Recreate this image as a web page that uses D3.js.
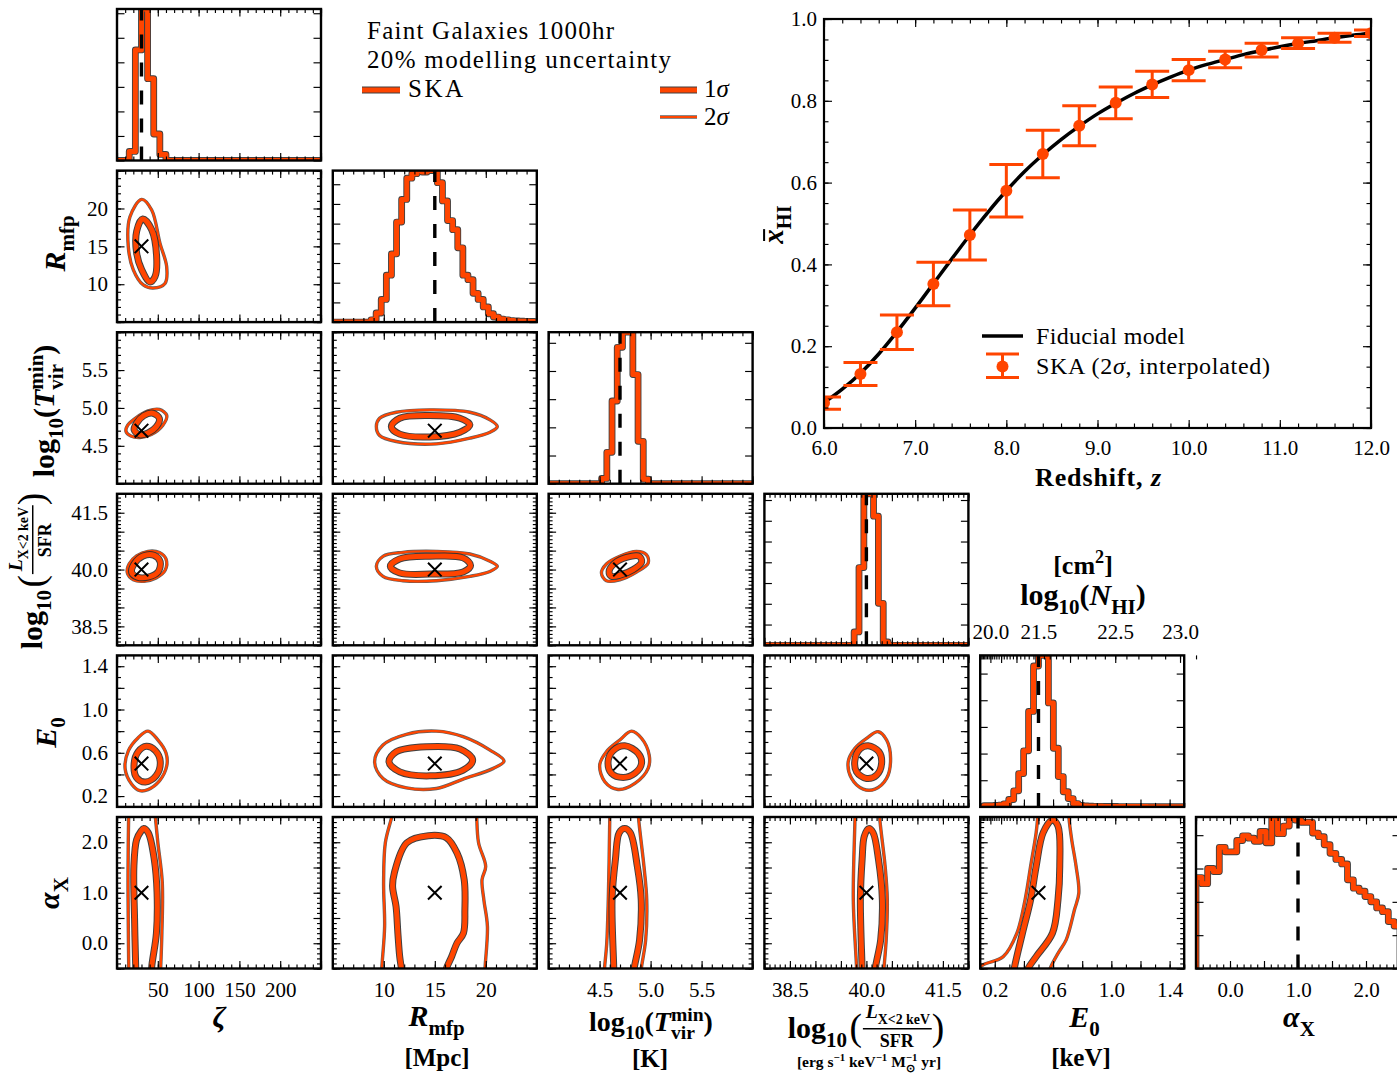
<!DOCTYPE html>
<html>
<head>
<meta charset="utf-8">
<script src="https://cdn.jsdelivr.net/npm/d3@7"></script>
<style>
  html, body { margin: 0; padding: 0; background: #fff; }
  svg { display: block; }
  text { font-family: 'Liberation Serif', 'Times New Roman', serif; fill: #000; white-space: pre; }
</style>
</head>
<body>
<svg id="fig" width="1397" height="1075"></svg>
<script>
// ---------------- corner-plot parameters ----------------
// order: zeta, R_mfp, log10 T_vir, log10 L_X/SFR, E_0, alpha_X
const paramDomains = [[0, 250], [5, 25], [4, 6], [38, 42], [0.1, 1.5], [-0.5, 2.5]];
const paramFiducial = [30, 15, 4.7, 40.0, 0.5, 1.0];
const majorStep = [50, 5, 0.5, 0.5, 0.2, 0.5];
const minorStep = [10, 1, 0.1, 0.1, 0.1, 0.1];
const tickLabelValues = [[50, 100, 150, 200], [10, 15, 20], [4.5, 5.0, 5.5], [38.5, 40.0, 41.5], [0.2, 0.6, 1.0, 1.4], [0.0, 1.0, 2.0]];
const tickLabelDecimals = [0, 0, 1, 1, 1, 1];

// ---------------- 1D marginal histograms (peak-normalised) ----------------
const histBinStart = [15, 8.75, 4.52, 39.76, 0.126, -0.5];
const histBinWidth = [7.5, 0.5, 0.051, 0.095, 0.034, 0.0857];
const histTickStep = [0.162, 0.13, 0.186, 0.137, 0.176, 0.22];
const histZeta = [0.06, 0.73, 1.0, 0.54, 0.175, 0.04];
const histRmfp = [0.015, 0.06, 0.15, 0.31, 0.45, 0.66, 0.81, 0.95, 0.98, 1.0, 0.99, 1.0, 1.0,
  0.92, 0.80, 0.67, 0.61, 0.49, 0.31, 0.28, 0.19, 0.15, 0.10, 0.055, 0.033, 0.02, 0.015, 0.01,
  0.008, 0.006, 0.005, 0.004, 0.003];
const histTvir = [0.035, 0.207, 0.546, 0.90, 1.0, 1.0, 0.72, 0.28, 0.03];
const histLx = [0.088, 0.513, 1.0, 1.0, 0.852, 0.277, 0.022];
const histE0 = [0.008, 0.008, 0.01, 0.012, 0.02, 0.049, 0.106, 0.22, 0.37, 0.63, 0.93, 1.0, 1.0,
  0.686, 0.387, 0.2, 0.1, 0.055, 0.022, 0.01, 0.006, 0.005, 0.004, 0.004, 0.003, 0.003, 0.003,
  0.002, 0.002, 0.002, 0.002, 0.002, 0.002, 0.001, 0.001, 0.001, 0.001, 0.001, 0.001, 0.001, 0.001];
const histAlphaX = [0.60, 0.56, 0.66, 0.64, 0.80, 0.77, 0.77, 0.845, 0.876, 0.86, 0.84, 0.905, 0.83,
  1.0, 0.89, 0.94, 1.0, 0.98, 0.965, 0.965, 0.894, 0.87, 0.817, 0.76, 0.72, 0.69, 0.585, 0.53,
  0.51, 0.475, 0.44, 0.40, 0.375, 0.31, 0.28];
const histograms = [histZeta, histRmfp, histTvir, histLx, histE0, histAlphaX];

// ---------------- 2D credible contours, vertices in parameter units ----------------
const zetaRmfp1s = [[31.5, 18.6], [42.5, 17.2], [48.6, 13.6], [46.6, 11.0], [40.4, 10.3], [30.3, 11.9], [24.1, 14.1], [24.1, 17.0]];
const zetaRmfp2s = [[30.3, 21.2], [42.5, 19.8], [52.7, 15.4], [60.9, 12.3], [58.8, 10.1], [44.5, 9.5], [32.2, 9.9], [20.0, 11.9], [13.8, 15.0], [15.9, 18.9]];
const zetaTvir1s = [[21, 4.71], [28, 4.645], [38, 4.67], [48, 4.75], [52, 4.86], [44, 4.93], [33, 4.9], [24, 4.8]];
const zetaTvir2s = [[11, 4.69], [17, 4.63], [28, 4.61], [42, 4.65], [56, 4.77], [61, 4.9], [52, 4.98], [38, 4.96], [22, 4.86], [13, 4.77]];
const zetaLx1s = [[18, 39.92], [25, 39.8], [38, 39.8], [50, 39.93], [53, 40.2], [45, 40.38], [32, 40.36], [21, 40.15]];
const zetaLx2s = [[12.6, 39.92], [20, 39.73], [33, 39.69], [48, 39.78], [59, 39.98], [60, 40.28], [52, 40.45], [38, 40.48], [24, 40.36], [15, 40.15]];
const zetaE01s = [[36, 0.66], [47, 0.62], [53, 0.52], [48, 0.39], [35, 0.33], [24, 0.37], [21, 0.50], [26, 0.61]];
const zetaE02s = [[38, 0.80], [50, 0.72], [60, 0.60], [61, 0.48], [52, 0.34], [38, 0.26], [28, 0.25], [18, 0.31], [10, 0.45], [14, 0.62], [26, 0.74]];
const zetaAlpha1s = [[23.5, -0.7], [22.9, -0.46], [21.5, 0.5], [20.7, 1.53], [24, 2.05], [29.5, 2.22], [32.6, 2.27], [38.2, 2.19], [45.7, 1.66], [49.1, 1.0], [48.3, 0.2], [42.6, -0.46], [42, -0.7]];
const zetaAlpha2sL = [[14.5, 2.7], [13.8, 2.0], [13.5, 1.2], [13.8, 0.4], [14.5, -0.7]];
const zetaAlpha2sR = [[46, 2.7], [47, 2.5], [50, 2.0], [55.5, 1.2], [55, 0.2], [53.5, -0.5], [53, -0.7]];

const rmfpTvir1s = [[10.74, 4.754], [11.56, 4.864], [14.51, 4.899], [17.46, 4.864], [18.44, 4.776], [17.46, 4.68], [14.51, 4.618], [11.56, 4.654]];
const rmfpTvir2s = [[9.27, 4.754], [9.59, 4.864], [11.23, 4.943], [14.51, 4.974], [18.44, 4.943], [20.41, 4.842], [21.13, 4.754], [20.41, 4.68], [18.44, 4.601], [15.17, 4.526], [11.23, 4.557], [9.59, 4.636]];
const rmfpLx1s = [[10.64, 40.085], [11.56, 40.28], [14.51, 40.35], [17.78, 40.307], [18.51, 40.11], [17.78, 39.936], [14.51, 39.88], [11.56, 39.91]];
const rmfpLx2s = [[9.27, 40.085], [9.92, 40.35], [11.88, 40.455], [15.17, 40.48], [18.44, 40.41], [20.41, 40.22], [21.13, 40.085], [20.41, 39.95], [18.44, 39.82], [15.17, 39.706], [11.88, 39.706], [9.92, 39.82]];
const rmfpE01s = [[10.51, 0.517], [11.23, 0.61], [14.18, 0.656], [17.46, 0.635], [18.71, 0.533], [17.78, 0.44], [14.51, 0.387], [11.56, 0.424]];
const rmfpE02s = [[9.1, 0.517], [9.92, 0.672], [12.22, 0.771], [15.17, 0.80], [17.78, 0.749], [20.41, 0.625], [21.79, 0.524], [20.74, 0.456], [17.78, 0.357], [15.17, 0.27], [12.22, 0.276], [9.92, 0.363]];
const rmfpAlpha1s = [[11.8, -0.7], [11.73, -0.51], [11.56, -0.265], [11.38, 0.2], [11.2, 0.73], [10.86, 1.126], [11.03, 1.39], [12.26, 1.99], [14.37, 2.13], [16.12, 2.09], [17.17, 1.79], [17.88, 1.26], [17.95, 0.66], [17.81, 0.2], [17.17, 0.0], [16.65, -0.265], [16.12, -0.51], [15.9, -0.7]];
const rmfpAlpha2sL = [[10.9, 2.7], [10.78, 2.51], [10.15, 1.99], [9.98, 1.19], [10.08, 0.33], [9.8, -0.51], [9.78, -0.7]];
const rmfpAlpha2sR = [[19.1, 2.7], [19.11, 2.51], [19.29, 1.99], [19.99, 1.52], [19.63, 1.26], [19.81, 0.86], [20.16, 0.33], [19.92, -0.51], [19.9, -0.7]];

const tvirLx1s = [[4.593, 39.95], [4.649, 40.17], [4.764, 40.32], [4.888, 40.35], [4.912, 40.2], [4.83, 40.0], [4.698, 39.85], [4.617, 39.82]];
const tvirLx2s = [[4.518, 39.91], [4.567, 40.148], [4.698, 40.35], [4.862, 40.48], [4.96, 40.39], [4.976, 40.17], [4.862, 39.936], [4.698, 39.73], [4.567, 39.706]];
const tvirE01s = [[4.747, 0.665], [4.878, 0.595], [4.911, 0.502], [4.846, 0.41], [4.731, 0.372], [4.617, 0.41], [4.583, 0.517], [4.632, 0.619]];
const tvirE02s = [[4.813, 0.80], [4.911, 0.734], [4.986, 0.579], [4.976, 0.456], [4.846, 0.317], [4.681, 0.261], [4.551, 0.332], [4.501, 0.486], [4.567, 0.61], [4.698, 0.718]];
const tvirAlpha1s = [[4.64, -0.7], [4.639, -0.51], [4.622, 0.862], [4.655, 1.657], [4.693, 2.19], [4.746, 2.27], [4.8, 2.19], [4.87, 1.52], [4.908, 0.862], [4.892, 0.067], [4.838, -0.51], [4.83, -0.7]];
const tvirAlpha2sL = [[4.6, 2.7], [4.6, 2.51], [4.585, 0.86], [4.57, 0.0], [4.548, -0.51], [4.545, -0.7]];
const tvirAlpha2sR = [[4.88, 2.7], [4.881, 2.51], [4.935, 1.52], [4.962, 0.86], [4.952, 0.07], [4.908, -0.51], [4.9, -0.7]];

const lxE01s = [[40.036, 0.665], [40.245, 0.61], [40.298, 0.502], [40.2, 0.394], [40.003, 0.363], [39.807, 0.424], [39.775, 0.533], [39.873, 0.635]];
const lxE02s = [[40.232, 0.795], [40.396, 0.718], [40.474, 0.549], [40.396, 0.363], [40.167, 0.264], [39.937, 0.264], [39.71, 0.363], [39.643, 0.517], [39.775, 0.641], [40.003, 0.734]];
const lxAlpha1s = [[39.92, -0.7], [39.916, -0.51], [39.882, 0.862], [39.916, 1.657], [39.959, 2.12], [40.045, 2.27], [40.131, 2.19], [40.237, 1.657], [40.313, 0.862], [40.28, 0.067], [40.173, -0.51], [40.17, -0.7]];
const lxAlpha2sL = [[39.777, 2.7], [39.777, 2.51], [39.743, 0.862], [39.808, -0.51], [39.81, -0.7]];
const lxAlpha2sR = [[40.259, 2.7], [40.259, 2.51], [40.367, 1.524], [40.41, 0.862], [40.388, 0.067], [40.345, -0.51], [40.34, -0.7]];

const e0Alpha1s = [[0.325, -0.7], [0.333, -0.51], [0.39, 0.2], [0.446, 0.862], [0.484, 1.524], [0.532, 2.19], [0.596, 2.44], [0.634, 2.32], [0.646, 1.524], [0.634, 0.862], [0.596, 0.2], [0.484, -0.265], [0.427, -0.51], [0.41, -0.7]];
const e0Alpha2sL = [[0.05, -0.6], [0.118, -0.43], [0.258, -0.265], [0.352, 0.2], [0.408, 0.862], [0.446, 1.524], [0.484, 2.19], [0.495, 2.51], [0.5, 2.7]];
const e0Alpha2sR = [[0.705, 2.7], [0.709, 2.49], [0.728, 2.05], [0.758, 1.524], [0.777, 0.995], [0.747, 0.663], [0.69, 0.067], [0.634, -0.2], [0.578, -0.51], [0.56, -0.7]];

const contourSets = [
  { col: 0, row: 1, closed: true, s1: [zetaRmfp1s], s2: [zetaRmfp2s] },
  { col: 0, row: 2, closed: true, s1: [zetaTvir1s], s2: [zetaTvir2s] },
  { col: 0, row: 3, closed: true, s1: [zetaLx1s], s2: [zetaLx2s] },
  { col: 0, row: 4, closed: true, s1: [zetaE01s], s2: [zetaE02s] },
  { col: 0, row: 5, closed: false, s1: [zetaAlpha1s], s2: [zetaAlpha2sL, zetaAlpha2sR] },
  { col: 1, row: 2, closed: true, s1: [rmfpTvir1s], s2: [rmfpTvir2s] },
  { col: 1, row: 3, closed: true, s1: [rmfpLx1s], s2: [rmfpLx2s] },
  { col: 1, row: 4, closed: true, s1: [rmfpE01s], s2: [rmfpE02s] },
  { col: 1, row: 5, closed: false, s1: [rmfpAlpha1s], s2: [rmfpAlpha2sL, rmfpAlpha2sR] },
  { col: 2, row: 3, closed: true, s1: [tvirLx1s], s2: [tvirLx2s] },
  { col: 2, row: 4, closed: true, s1: [tvirE01s], s2: [tvirE02s] },
  { col: 2, row: 5, closed: false, s1: [tvirAlpha1s], s2: [tvirAlpha2sL, tvirAlpha2sR] },
  { col: 3, row: 4, closed: true, s1: [lxE01s], s2: [lxE02s] },
  { col: 3, row: 5, closed: false, s1: [lxAlpha1s], s2: [lxAlpha2sL, lxAlpha2sR] },
  { col: 4, row: 5, closed: false, s1: [e0Alpha1s], s2: [e0Alpha2sL, e0Alpha2sR] }
];

// ---------------- secondary column-density axis on the E_0 column ----------------
const nhiRefLog = 21.5, e0AtNhiRef = 0.5, nhiSlope = 3.2;
const nhiMajorTicks = [20.0, 20.5, 21.0, 21.5, 22.0, 22.5, 23.0];
const nhiMinorRange = [19.3, 23.1];
const nhiLabelValues = [20.0, 21.5, 22.5, 23.0];

// ---------------- neutral-fraction history ----------------
const redshift = [6.0, 6.4, 6.8, 7.2, 7.6, 8.0, 8.4, 8.8, 9.2, 9.6, 10.0, 10.4, 10.8, 11.2, 11.6, 12.0];
const xhiSKA = [0.061, 0.132, 0.234, 0.352, 0.472, 0.580, 0.670, 0.739, 0.795, 0.840, 0.875, 0.901, 0.924, 0.941, 0.954, 0.965];
const xhiErr2s = [0.015, 0.028, 0.042, 0.053, 0.061, 0.064, 0.058, 0.049, 0.039, 0.032, 0.026, 0.020, 0.017, 0.013, 0.011, 0.008];
const fiducialZ = [6.0, 6.2, 6.4, 6.6, 6.8, 7.0, 7.2, 7.4, 7.6, 7.8, 8.0, 8.2, 8.4, 8.6, 8.8, 9.0, 9.2, 9.4, 9.6, 9.8,
  10.0, 10.2, 10.4, 10.6, 10.8, 11.0, 11.2, 11.4, 11.6, 11.8, 12.0];
const fiducialXHI = [0.062, 0.095, 0.134, 0.181, 0.235, 0.293, 0.353, 0.413, 0.472, 0.528, 0.580, 0.627, 0.668, 0.705,
  0.738, 0.768, 0.794, 0.818, 0.839, 0.858, 0.875, 0.889, 0.901, 0.913, 0.923, 0.932, 0.940, 0.947, 0.954, 0.960, 0.965];

// ---------------- drawing ----------------
const ORANGE = "#ff4500", EDGE = "#2b2b2b";
const SERIF = "'Liberation Serif', 'Times New Roman', serif";
const svg = d3.select("#fig");
const defs = svg.append("defs");

const X0 = 117, COLSTEP = 215.8, PW = 204, Y0 = 9, ROWSTEP = 161.6, PH = 151.5;
const xScaleFor = i => d3.scaleLinear().domain(paramDomains[i]).range([X0 + i * COLSTEP, X0 + i * COLSTEP + PW]);
const yScaleFor = j => d3.scaleLinear().domain(paramDomains[j]).range([Y0 + j * ROWSTEP + PH, Y0 + j * ROWSTEP]);

function stepValues(dom, step) {
  const n0 = Math.ceil(dom[0] / step - 1e-9), n1 = Math.floor(dom[1] / step + 1e-9);
  return d3.range(n0, n1 + 1).map(k => +(k * step).toFixed(6));
}
const axisMaker = { bottom: d3.axisBottom, top: d3.axisTop, left: d3.axisLeft, right: d3.axisRight };

function tickMarks(g, scale, orient, pos, values, len) {
  const ax = axisMaker[orient](scale).tickValues(values).tickSizeInner(-len).tickSizeOuter(0).tickFormat("");
  const horiz = orient === "bottom" || orient === "top";
  const a = g.append("g").attr("transform", horiz ? `translate(0,${pos})` : `translate(${pos},0)`).call(ax);
  a.select(".domain").remove();
  a.selectAll(".tick text").remove();
  a.selectAll(".tick line").attr("stroke", "#000").attr("stroke-width", 1.15);
}
function tickLabels(g, scale, orient, pos, values, fmt, pad, size) {
  const ax = axisMaker[orient](scale).tickValues(values).tickSize(0).tickPadding(pad).tickFormat(fmt);
  const horiz = orient === "bottom" || orient === "top";
  const a = g.append("g").attr("transform", horiz ? `translate(0,${pos})` : `translate(${pos},0)`).call(ax);
  a.select(".domain").remove();
  a.selectAll(".tick line").remove();
  a.attr("font-family", SERIF).attr("font-size", size);
  a.selectAll("text").attr("fill", "#000");
}

// little typesetter for math-style labels
function typeset(parent, pieces, size) {
  const g = parent.append("g");
  let x = 0, stackW = 0;
  pieces.forEach(p => {
    if (p.frac) {
      const fg = g.append("g");
      const num = typeset(fg, p.frac.num, size * p.frac.numSize);
      const den = typeset(fg, p.frac.den, size * p.frac.denSize);
      const nb = num.node().getBBox(), db = den.node().getBBox();
      const W = Math.max(nb.width, db.width) + size * 0.12;
      const barY = -size * 0.3;
      num.attr("transform", `translate(${x + (W - nb.width) / 2 - nb.x},${barY - 1.5 - (nb.y + nb.height)})`);
      den.attr("transform", `translate(${x + (W - db.width) / 2 - db.x},${barY + 2 - db.y})`);
      fg.append("line").attr("x1", x).attr("x2", x + W).attr("y1", barY).attr("y2", barY)
        .attr("stroke", "#000").attr("stroke-width", size * 0.05);
      x += W;
      return;
    }
    const fs = size * (p.size || ((p.sub || p.sup) ? 0.7 : 1));
    const y = (p.sub ? 0.3 * size : p.sup ? -(p.up || 0.42) * size : 0) + (p.dy || 0) * size;
    const t = g.append("text").attr("x", x).attr("y", y).attr("font-size", fs)
      .attr("font-weight", p.reg ? "normal" : "bold")
      .attr("font-style", p.it ? "italic" : "normal").text(p.t);
    const w = t.node().getComputedTextLength();
    if (p.bar) {
      g.append("line").attr("x1", x + w * 0.18).attr("x2", x + w * 1.0).attr("y1", -0.64 * fs).attr("y2", -0.64 * fs)
        .attr("stroke", "#000").attr("stroke-width", fs * 0.07);
    }
    if (p.stack) stackW = Math.max(stackW, w);
    else { x += Math.max(w, stackW) + (p.kern || 0) * size; stackW = 0; }
  });
  return g;
}
function placeCentered(g, cx, cy, rotate) {
  const b = g.node().getBBox();
  g.attr("transform", `translate(${cx},${cy})${rotate ? " rotate(-90)" : ""} translate(${-(b.x + b.width / 2)},${-(b.y + b.height / 2)})`);
}
function placeBaseline(g, cx, by) {
  const b = g.node().getBBox();
  g.attr("transform", `translate(${cx - (b.x + b.width / 2)},${by})`);
}
function inlineText(parent, x, y, size, parts, opts = {}) {
  const t = parent.append("text").attr("x", x).attr("y", y).attr("font-size", size)
    .attr("font-weight", opts.bold ? "bold" : "normal").attr("text-anchor", opts.anchor || "start");
  parts.forEach(p => t.append("tspan").attr("font-style", p.it ? "italic" : "normal").text(p.t));
  if (opts.length) t.attr("textLength", opts.length).attr("lengthAdjust", "spacing");
  return t;
}
function strokedPath(g, d, w, ew, edgeOpacity) {
  g.append("path").attr("d", d).attr("fill", "none").attr("stroke", EDGE).attr("stroke-opacity", edgeOpacity)
    .attr("stroke-width", ew).attr("stroke-linejoin", "round");
  g.append("path").attr("d", d).attr("fill", "none").attr("stroke", ORANGE)
    .attr("stroke-width", w).attr("stroke-linejoin", "round");
}

const nhiScale = (() => {
  const nFromE0 = e => Math.pow(10, nhiRefLog + nhiSlope * Math.log10(e / e0AtNhiRef));
  const xr = xScaleFor(4).range();
  return d3.scalePow().exponent(1 / nhiSlope).domain([nFromE0(paramDomains[4][0]), nFromE0(paramDomains[4][1])]).range(xr);
})();
const nhiMajorN = nhiMajorTicks.map(v => Math.pow(10, v));
const nhiMinorN = stepValues(nhiMinorRange, 0.1).map(v => Math.pow(10, v));

// corner panels
for (let r = 0; r < 6; r++) {
  for (let c = 0; c <= r; c++) {
    const x = xScaleFor(c);
    const [xl, xr] = x.range();
    const yTop = Y0 + r * ROWSTEP, yBot = yTop + PH;
    const isHist = r === c;
    const y = isHist ? d3.scaleLinear().domain([0, 1]).range([yBot, yTop]) : yScaleFor(r);
    const pg = svg.append("g");
    const clipId = `clip-${r}-${c}`;
    defs.append("clipPath").attr("id", clipId).append("rect")
      .attr("x", xl).attr("y", yTop).attr("width", PW).attr("height", PH);
    const body = pg.append("g").attr("clip-path", `url(#${clipId})`);

    if (isHist) {
      const h = histograms[c], s0 = histBinStart[c], bw = histBinWidth[c];
      const pts = [[paramDomains[c][0], 0]];
      h.forEach((v, k) => pts.push([s0 + k * bw, v]));
      pts.push([s0 + h.length * bw, 0]);
      pts.push([paramDomains[c][1], 0]);
      const line = d3.line().x(d => x(d[0])).y(d => y(d[1])).curve(d3.curveStepAfter);
      strokedPath(body, line(pts), 5, 6.8, 0.9);
      const fx = x(paramFiducial[c]);
      body.append("line").attr("x1", fx).attr("x2", fx).attr("y1", yBot).attr("y2", yTop)
        .attr("stroke", "#000").attr("stroke-width", 3.4).attr("stroke-dasharray", "14,14");
    } else {
      const set = contourSets.find(s => s.col === c && s.row === r);
      const curve = set.closed ? d3.curveCatmullRomClosed.alpha(0.5) : d3.curveCatmullRom.alpha(0.5);
      const line = d3.line().x(d => x(d[0])).y(d => y(d[1])).curve(curve);
      set.s2.forEach(p => strokedPath(body, line(p), 2.2, 3.4, 0.75));
      set.s1.forEach(p => strokedPath(body, line(p), 5, 7, 0.9));
      const mx = x(paramFiducial[c]), my = y(paramFiducial[r]), m = 6.8;
      body.append("path").attr("d", `M${mx - m},${my - m}L${mx + m},${my + m}M${mx - m},${my + m}L${mx + m},${my - m}`)
        .attr("stroke", "#000").attr("stroke-width", 2).attr("fill", "none");
    }

    // ticks, inward on all four sides
    const tg = pg.append("g");
    const xMaj = stepValues(paramDomains[c], majorStep[c]), xMin = stepValues(paramDomains[c], minorStep[c]);
    tickMarks(tg, x, "bottom", yBot, xMin, 4);
    tickMarks(tg, x, "bottom", yBot, xMaj, 7.5);
    if (c === 4) {
      tickMarks(tg, nhiScale, "top", yTop, nhiMinorN, 4);
      tickMarks(tg, nhiScale, "top", yTop, nhiMajorN, 7.5);
    } else {
      tickMarks(tg, x, "top", yTop, xMin, 4);
      tickMarks(tg, x, "top", yTop, xMaj, 7.5);
    }
    if (isHist) {
      const hv = stepValues([0, 1], histTickStep[c]);
      tickMarks(tg, y, "left", xl, hv, 7.5);
      tickMarks(tg, y, "right", xr, hv, 7.5);
    } else {
      const yMaj = stepValues(paramDomains[r], majorStep[r]), yMin = stepValues(paramDomains[r], minorStep[r]);
      ["left", "right"].forEach(o => {
        tickMarks(tg, y, o, o === "left" ? xl : xr, yMin, 4);
        tickMarks(tg, y, o, o === "left" ? xl : xr, yMaj, 7.5);
      });
    }
    pg.append("rect").attr("x", xl).attr("y", yTop).attr("width", PW).attr("height", PH)
      .attr("fill", "none").attr("stroke", "#000").attr("stroke-width", 2.4);

    if (r === 5) {
      tickLabels(pg, x, "bottom", yBot, tickLabelValues[c], d => d.toFixed(tickLabelDecimals[c]), 13.5, 21);
    }
    if (c === 0 && r > 0) {
      tickLabels(pg, y, "left", xl, tickLabelValues[r], d => d.toFixed(tickLabelDecimals[r]), 9, 21);
    }
    if (c === 4 && r === 4) {
      tickLabels(pg, nhiScale, "top", yTop, nhiLabelValues.map(v => Math.pow(10, v)),
        d => Math.log10(d).toFixed(1), 16, 21);
    }
  }
}

// ---------------- axis titles of the corner plot ----------------
const LS = 30;
const lblRmfp = [{ t: "R", it: true }, { t: "mfp", sub: true }];
const lblTvir = [{ t: "log" }, { t: "10", sub: true }, { t: "(" }, { t: "T", it: true }, { t: "min", sup: true, stack: true, up: 0.37 }, { t: "vir", sub: true }, { t: ")" }];
const lblLx = [{ t: "log" }, { t: "10", sub: true, kern: 0.08 }, { t: "(", size: 1.25, reg: true, dy: 0.08, kern: 0.03 },
  { frac: { num: [{ t: "L", it: true }, { t: "X<2 keV", sub: true }], den: [{ t: "SFR" }], numSize: 0.66, denSize: 0.6 } },
  { t: ")", size: 1.25, reg: true, dy: 0.08 }];
const lblE0 = [{ t: "E", it: true }, { t: "0", sub: true }];
const lblAlpha = [{ t: "α", it: true }, { t: "X", sub: true }];

placeCentered(typeset(svg, lblRmfp, LS), 58, 244, true);
placeCentered(typeset(svg, lblTvir, LS), 46, 411, true);
placeCentered(typeset(svg, lblLx, LS), 30, 571, true);
placeCentered(typeset(svg, lblE0, LS), 49, 733, true);
placeCentered(typeset(svg, lblAlpha, LS), 52, 893, true);

placeBaseline(typeset(svg, [{ t: "ζ", it: true }], LS), 220, 1027);
placeBaseline(typeset(svg, lblRmfp, LS), 436, 1026);
placeBaseline(typeset(svg, [{ t: "[Mpc]" }], 25), 437, 1066);
placeBaseline(typeset(svg, lblTvir, 28), 651, 1031);
placeBaseline(typeset(svg, [{ t: "[K]" }], 25), 650, 1067);
placeCentered(typeset(svg, lblLx, LS), 866, 1026, false);
placeBaseline(typeset(svg, [{ t: "[erg s" }, { t: "−1", sup: true }, { t: " keV" }, { t: "−1", sup: true }, { t: " M" },
  { t: "−1", sup: true, stack: true }, { t: "⊙", sub: true }, { t: " yr]" }], 15.5), 869, 1067);
placeBaseline(typeset(svg, lblE0, LS), 1084, 1027);
placeBaseline(typeset(svg, [{ t: "[keV]" }], 25), 1081, 1066);
placeBaseline(typeset(svg, lblAlpha, LS), 1299, 1027);

placeBaseline(typeset(svg, [{ t: "[cm" }, { t: "2", sup: true }, { t: "]" }], 26), 1083, 574);
placeBaseline(typeset(svg, [{ t: "log" }, { t: "10", sub: true }, { t: "(" }, { t: "N", it: true }, { t: "HI", sub: true }, { t: ")" }], LS), 1083, 605);

// ---------------- annotation block and legend ----------------
inlineText(svg, 367, 39, 25, [{ t: "Faint Galaxies 1000hr" }], { length: 247 });
inlineText(svg, 367, 68, 25, [{ t: "20% modelling uncertainty" }], { length: 304 });
const lg = svg.append("g");
strokedPath(lg, "M362,90L400,90", 5, 6.8, 0.9);
inlineText(lg, 408, 97, 25, [{ t: "SKA" }], { length: 55 });
strokedPath(lg, "M660,90L697,90", 5, 6.8, 0.9);
inlineText(lg, 704, 97, 25, [{ t: "1" }, { t: "σ", it: true }]);
strokedPath(lg, "M660,117L697,117", 2.2, 3.4, 0.75);
inlineText(lg, 704, 125, 25, [{ t: "2" }, { t: "σ", it: true }]);

// ---------------- neutral fraction vs redshift ----------------
const zx = d3.scaleLinear().domain([6, 12]).range([824, 1371]);
const zy = d3.scaleLinear().domain([0, 1]).range([428, 19]);
const hp = svg.append("g");
defs.append("clipPath").attr("id", "clip-xhi").append("rect").attr("x", 824).attr("y", 19).attr("width", 547).attr("height", 409);
const hb = hp.append("g").attr("clip-path", "url(#clip-xhi)");
hb.append("path").datum(fiducialZ.map((z, i) => [z, fiducialXHI[i]]))
  .attr("d", d3.line().x(d => zx(d[0])).y(d => zy(d[1])).curve(d3.curveMonotoneX))
  .attr("fill", "none").attr("stroke", "#000").attr("stroke-width", 3.5);
const capHalf = 17;
redshift.forEach((z, i) => {
  const cx = zx(z), y1 = zy(xhiSKA[i] - xhiErr2s[i]), y2 = zy(xhiSKA[i] + xhiErr2s[i]);
  hb.append("path").attr("d", `M${cx},${y1}L${cx},${y2}M${cx - capHalf},${y1}L${cx + capHalf},${y1}M${cx - capHalf},${y2}L${cx + capHalf},${y2}`)
    .attr("stroke", ORANGE).attr("stroke-width", 3).attr("fill", "none");
  hb.append("circle").attr("cx", cx).attr("cy", zy(xhiSKA[i])).attr("r", 6).attr("fill", ORANGE);
});
tickMarks(hp, zx, "bottom", 428, stepValues([6, 12], 0.2), 4.5);
tickMarks(hp, zx, "bottom", 428, stepValues([6, 12], 1), 8);
tickMarks(hp, zx, "top", 19, stepValues([6, 12], 0.2), 4.5);
tickMarks(hp, zx, "top", 19, stepValues([6, 12], 1), 8);
tickMarks(hp, zy, "left", 824, stepValues([0, 1], 0.05), 4.5);
tickMarks(hp, zy, "left", 824, stepValues([0, 1], 0.2), 8);
tickMarks(hp, zy, "right", 1371, stepValues([0, 1], 0.05), 4.5);
tickMarks(hp, zy, "right", 1371, stepValues([0, 1], 0.2), 8);
hp.append("rect").attr("x", 824).attr("y", 19).attr("width", 547).attr("height", 409)
  .attr("fill", "none").attr("stroke", "#000").attr("stroke-width", 2.2);
tickLabels(hp, zx, "bottom", 428, stepValues([6, 12], 1), d => d.toFixed(1), 12, 21);
tickLabels(hp, zy, "left", 824, stepValues([0, 1], 0.2), d => d.toFixed(1), 7, 21);

placeCentered(typeset(svg, [{ t: "x", it: true, bar: true }, { t: "HI", sub: true }], 29), 776, 225, true);
inlineText(svg, 1098, 486, 26, [{ t: "Redshift, " }, { t: "z", it: true }], { bold: true, anchor: "middle", length: 126 });

// legend of the neutral-fraction panel
hp.append("line").attr("x1", 982).attr("x2", 1023).attr("y1", 336).attr("y2", 336).attr("stroke", "#000").attr("stroke-width", 3.5);
inlineText(hp, 1036, 344, 24, [{ t: "Fiducial model" }], { length: 149 });
hp.append("path").attr("d", "M1002.5,354L1002.5,377.5M986,354L1019,354M986,377.5L1019,377.5")
  .attr("stroke", ORANGE).attr("stroke-width", 3).attr("fill", "none");
hp.append("circle").attr("cx", 1002.5).attr("cy", 366.5).attr("r", 6).attr("fill", ORANGE);
inlineText(hp, 1036, 374, 24, [{ t: "SKA (2" }, { t: "σ", it: true }, { t: ", interpolated)" }], { length: 234 });
</script>
</body>
</html>
